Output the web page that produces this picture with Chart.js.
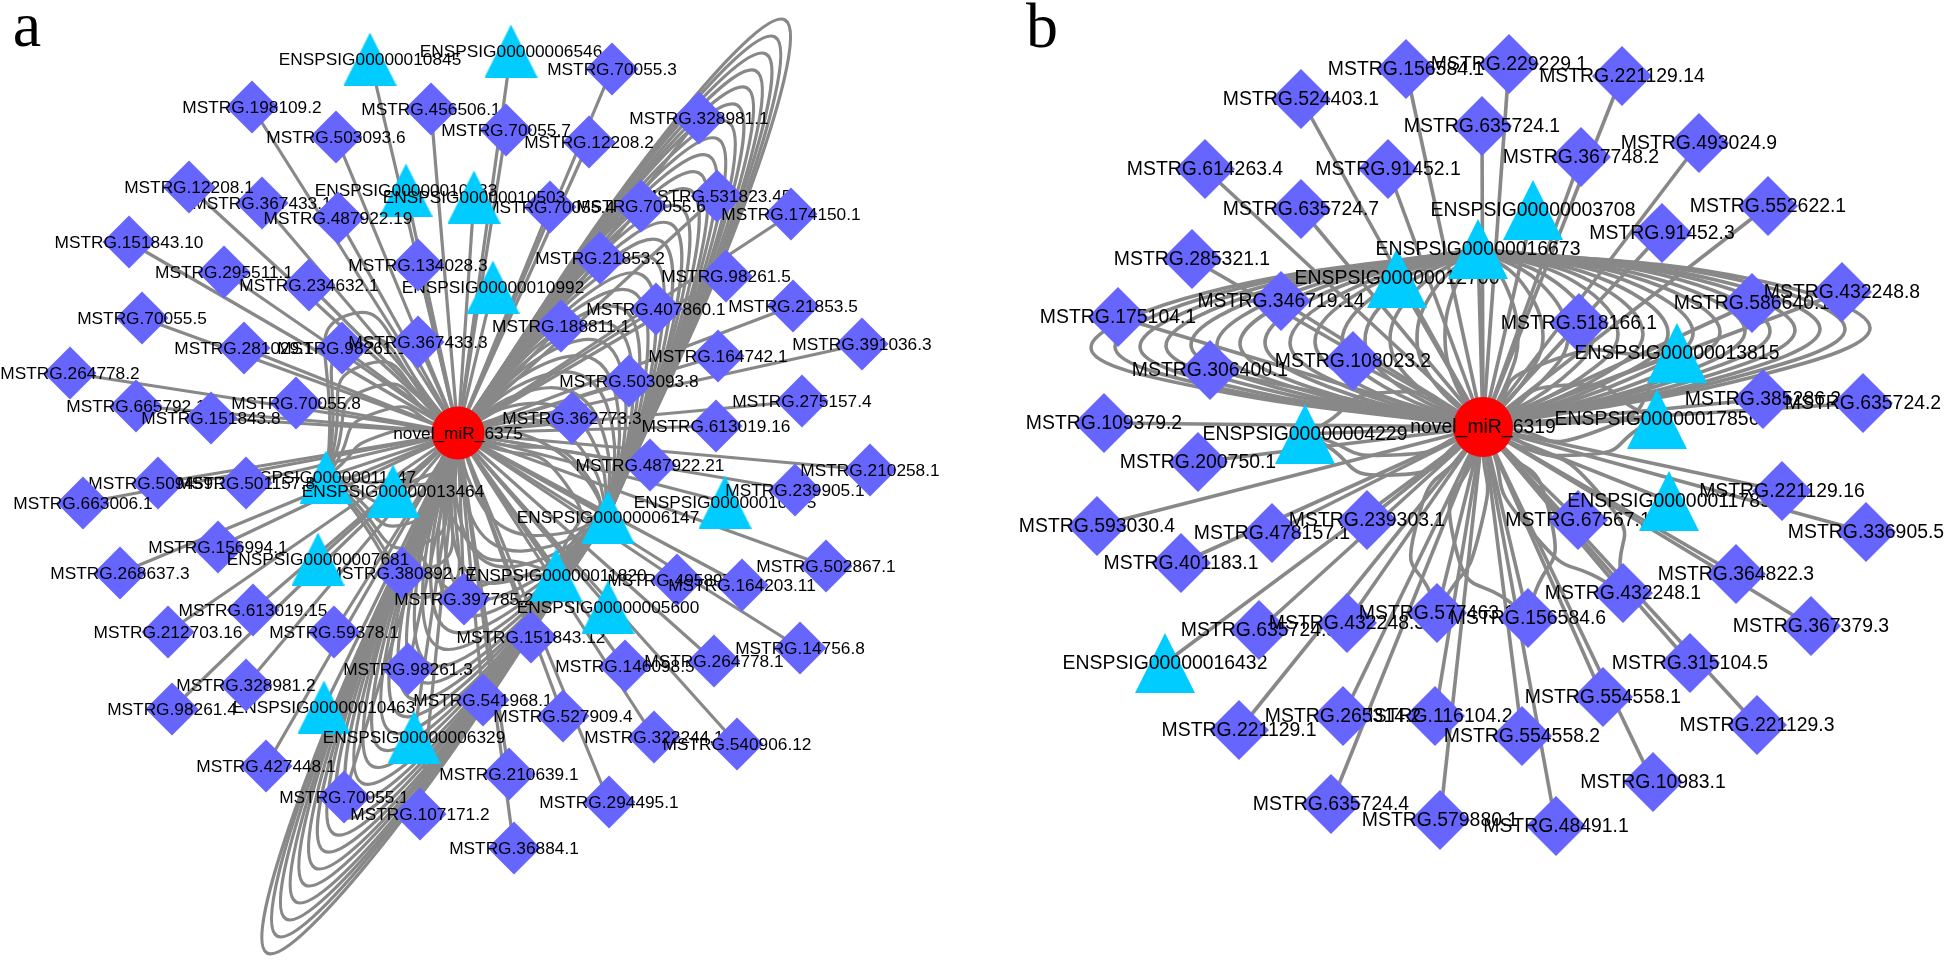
<!DOCTYPE html>
<html><head><meta charset="utf-8">
<style>html,body{margin:0;padding:0;background:#fff}#w{width:1946px;height:961px;position:relative}</style>
<script src="https://cdn.jsdelivr.net/npm/chart.js@4"></script>
</head><body><div id="w"><canvas id="c" width="1946" height="961"></canvas></div>
<script>
// Panel a -----------------------------------------------------------------
const hubA = {name:'novel_miR_6375', x:458, y:433};
const namesA = ['ENSPSIG00000010933','ENSPSIG00000010503','ENSPSIG00000010845','ENSPSIG00000006546','ENSPSIG00000010992','ENSPSIG00000011147','ENSPSIG00000013464','ENSPSIG00000007681','ENSPSIG00000010463','ENSPSIG00000006329','ENSPSIG00000010675','ENSPSIG00000006147','ENSPSIG00000011820','ENSPSIG00000005600',
'MSTRG.367433.1','MSTRG.12208.1','MSTRG.198109.2','MSTRG.456506.1','MSTRG.503093.6','MSTRG.487922.19','MSTRG.151843.10','MSTRG.295511.1','MSTRG.234632.1','MSTRG.134028.3','MSTRG.70055.5','MSTRG.281029.1','MSTRG.98261.1','MSTRG.367433.3','MSTRG.264778.2','MSTRG.665792.1','MSTRG.151843.8','MSTRG.70055.8','MSTRG.509459.1','MSTRG.501157.8','MSTRG.663006.1','MSTRG.156994.1','MSTRG.268637.3','MSTRG.380892.17','MSTRG.613019.15','MSTRG.212703.16','MSTRG.59378.1','MSTRG.397785.2','MSTRG.98261.3','MSTRG.328981.2','MSTRG.98261.4','MSTRG.541968.1','MSTRG.427448.1','MSTRG.70055.1','MSTRG.107171.2','MSTRG.210639.1','MSTRG.36884.1','MSTRG.294495.1','MSTRG.527909.4','MSTRG.322244.1','MSTRG.540906.12','MSTRG.146098.5','MSTRG.264778.1','MSTRG.14756.8','MSTRG.151843.12','MSTRG.495897.1','MSTRG.164203.11','MSTRG.502867.1','MSTRG.239905.1','MSTRG.210258.1','MSTRG.487922.21','MSTRG.70055.3','MSTRG.70055.7','MSTRG.12208.2','MSTRG.328981.1','MSTRG.531823.45','MSTRG.174150.1','MSTRG.70055.4','MSTRG.70055.6','MSTRG.21853.2','MSTRG.98261.5','MSTRG.407860.1','MSTRG.21853.5','MSTRG.188811.1','MSTRG.391036.3','MSTRG.164742.1','MSTRG.503093.8','MSTRG.275157.4','MSTRG.362773.3','MSTRG.613019.16'];
const xA = [406,474,370,511,493,326,393,318,324,414,725,608,556,608,
262,189,252,431,336,338,129,224,309,418,142,244,342,418,70,136,211,296,158,246,83,218,120,402,253,168,334,464,408,246,172,483,266,344,420,509,514,609,563,654,737,625,714,800,531,677,742,826,795,870,650,612,506,589,699,717,791,550,641,600,726,656,793,561,862,718,629,802,572,716];
const yA = [190,197,59,51,287,477,491,559,707,737,502,517,575,607,
203,187,107,109,137,218,242,272,285,265,318,348,348,342,373,406,418,403,483,483,503,547,573,573,610,632,632,599,669,685,709,700,766,797,814,774,848,802,716,737,744,666,661,648,637,580,585,566,490,470,465,69,130,142,118,196,214,207,206,258,276,309,306,326,344,356,381,401,418,426];
// nodes painted last in panel a, so they sit on top of their neighbours
const onTopA = ['ENSPSIG00000010503','ENSPSIG00000007681','ENSPSIG00000011820','ENSPSIG00000005600'];
// parallel hub-to-gene edges of panel a: shoulder near the hub, turning point, shoulder near the gene
const bundleTargetA = {x:608, y:517};
const nearXA = [666,659,652,646,639,632,626,619,612,606,599,592,586,579,572,566,559,552,546,539,532,526,519,512,506,499,304,310,317,324,330,337,344,350,357,364,371,377,384,391,397,404,411,417,424,431,438,444,451,458,464,471];
const nearYA = [132,144,156,168,180,191,203,215,227,239,251,263,275,287,299,311,322,334,346,358,370,382,394,406,418,430,785,773,761,749,737,725,713,701,689,677,665,653,641,629,617,605,593,581,569,557,545,533,521,509,497,485];
const bendXA = [785,775,766,756,747,737,728,718,709,699,690,680,671,661,652,642,633,623,614,604,595,585,576,566,557,547,267,277,286,296,305,315,324,334,343,353,362,372,381,391,400,410,419,429,438,448,457,467,476,486,495,505];
const bendYA = [20,37,54,71,88,105,122,139,156,173,190,207,224,241,258,275,292,309,326,343,360,377,394,411,428,445,953,936,919,902,885,868,851,834,817,800,783,766,749,732,715,698,681,664,647,630,613,596,579,562,545,528];
const farXA = [753,746,739,733,726,719,713,706,699,693,686,679,673,666,659,653,646,639,633,626,619,613,606,599,593,586,391,397,404,411,417,424,431,437,444,451,458,464,471,478,484,491,498,504,511,518,525,531,538,545,551,558];
const farYA = [181,193,205,217,229,240,252,264,276,288,300,312,324,336,348,360,371,383,395,407,419,431,443,455,467,479,834,822,810,798,786,774,762,750,738,726,714,702,690,678,666,654,642,630,618,606,594,582,570,558,546,534];
// smaller bundles: target node and turning point of each edge
const extraTargetXA = [326,326,326,326,326,326,326,326,326,326,326,326,393,393,393,393,556,556,556,556];
const extraTargetYA = [477,477,477,477,477,477,477,477,477,477,477,477,491,491,491,491,575,575,575,575];
const extraBendXA = [348,356,364,371,378,385,436,428,420,413,406,399,360,385,450,470,430,460,590,570];
const extraBendYA = [315,341,365,388,412,434,595,569,545,522,498,476,520,500,470,450,570,530,480,490];

// Panel b -----------------------------------------------------------------
const hubB = {name:'novel_miR_6319', x:1483, y:427};
const namesB = ['ENSPSIG00000012700','ENSPSIG00000016673','ENSPSIG00000003708','ENSPSIG00000013815','ENSPSIG00000017856','ENSPSIG00000004229','ENSPSIG00000016432','ENSPSIG00000011789',
'MSTRG.156584.1','MSTRG.524403.1','MSTRG.635724.1','MSTRG.614263.4','MSTRG.91452.1','MSTRG.635724.7','MSTRG.285321.1','MSTRG.346719.14','MSTRG.175104.1','MSTRG.306400.1','MSTRG.108023.2','MSTRG.109379.2','MSTRG.200750.1','MSTRG.229229.1','MSTRG.221129.14','MSTRG.493024.9','MSTRG.367748.2','MSTRG.552622.1','MSTRG.91452.3','MSTRG.586640.1','MSTRG.432248.8','MSTRG.518166.1','MSTRG.385286.2','MSTRG.635724.2','MSTRG.593030.4','MSTRG.478157.1','MSTRG.239303.1','MSTRG.401183.1','MSTRG.635724.5','MSTRG.432248.3','MSTRG.577463.1','MSTRG.221129.1','MSTRG.265314.2','MSTRG.116104.2','MSTRG.635724.4','MSTRG.579880.1','MSTRG.221129.16','MSTRG.336905.5','MSTRG.67567.1','MSTRG.364822.3','MSTRG.432248.1','MSTRG.156584.6','MSTRG.367379.3','MSTRG.315104.5','MSTRG.554558.1','MSTRG.554558.2','MSTRG.221129.3','MSTRG.10983.1','MSTRG.48491.1'];
const xB = [1397,1478,1533,1677,1657,1305,1165,1669,
1406,1301,1482,1205,1388,1301,1192,1281,1118,1210,1353,1104,1198,1509,1622,1699,1581,1768,1662,1752,1842,1579,1763,1863,1097,1272,1367,1181,1259,1347,1437,1239,1343,1435,1331,1440,1782,1866,1578,1736,1623,1528,1811,1690,1603,1522,1757,1653,1556];
const yB = [278,249,210,353,419,434,663,501,
69,99,126,169,169,209,259,301,317,370,361,423,462,64,76,143,157,206,233,303,292,323,399,403,526,533,520,563,630,623,613,730,716,716,804,820,491,532,520,574,593,618,626,663,697,736,725,782,826];
const onTopB = ['ENSPSIG00000013815','MSTRG.265314.2'];
const bundleTargetB = {x:1478, y:249};
const nearXB = [1208,1224,1242,1260,1278,1296,1312,1329,1347,1364,1383,1399,1417,1436,1456,1753,1736,1718,1701,1683,1666,1648,1629,1612,1594,1577,1559,1542,1524,1507];
const nearYB = [389,389,389,388,388,388,388,387,387,387,386,386,386,385,385,377,377,378,378,378,379,379,379,380,380,380,381,381,381,382];
const bendXB = [1091,1115,1140,1166,1191,1217,1240,1265,1290,1315,1342,1365,1390,1417,1445,1870,1845,1820,1795,1770,1745,1720,1693,1668,1643,1618,1593,1568,1543,1518];
const bendYB = [348,347,347,346,345,345,344,343,343,342,342,341,340,340,339,328,329,329,330,331,331,332,333,333,334,334,335,336,336,337];
const farXB = [1205,1221,1240,1258,1276,1294,1310,1327,1345,1362,1381,1397,1415,1434,1454,1751,1734,1716,1699,1681,1664,1646,1627,1610,1592,1575,1557,1540,1522,1505];
const farYB = [293,293,293,293,292,292,292,292,292,291,291,291,291,290,290,279,279,280,280,280,281,281,281,282,282,282,283,283,283,284];
const extraTargetXB = [1305,1305,1305,1437,1437,1528,1528,1623,1623,1657,1657,1677,1677];
const extraTargetYB = [434,434,434,613,613,618,618,593,593,419,419,353,353];
const extraBendXB = [1394,1394,1394,1415,1480,1550,1455,1605,1530,1570,1580,1600,1540];
const extraBendYB = [475,455,392,530,530,515,545,500,530,385,455,430,365];

const panelLetters = [{t:'a', x:27, y:46},{t:'b', x:1042, y:47}];

const EDGE='#888888', DIAMOND='#6666FF', TRI='#00CCFF', HUB='#FF0000';

function triangle(size){
  const c=document.createElement('canvas'); c.width=size; c.height=size;
  const g=c.getContext('2d'); g.fillStyle=TRI; g.beginPath();
  g.moveTo(size/2,0); g.lineTo(size,size); g.lineTo(0,size); g.closePath(); g.fill();
  return c;
}
const list=[];
function panel(hub,names,xs,ys,onTop,target,nx,ny,bx,by,fx,fy,ex,ey,ebx,eby,o){
  const h={x:hub.x,y:hub.y}, line={showLine:true,borderColor:EDGE,borderWidth:o.lw,pointRadius:0};
  names.forEach((n,i)=>list.push({...line,data:[h,{x:xs[i],y:ys[i]}]}));
  bx.forEach((x,i)=>list.push({...line,tension:.4,data:[h,{x:nx[i],y:ny[i]},{x,y:by[i]},{x:fx[i],y:fy[i]},{x:target.x,y:target.y}]}));
  ex.forEach((x,i)=>list.push({...line,tension:.7,data:[h,{x:ebx[i],y:eby[i]},{x,y:ey[i]}]}));
  const tri=triangle(o.tri);
  const node=(n,i)=>list.push({data:[{x:xs[i],y:ys[i]}],showLine:false,pointStyle:n.startsWith('ENSPSIG')?tri:'rectRot',pointRadius:o.r,pointBackgroundColor:DIAMOND,pointBorderWidth:0,nodeLabel:n,font:o.font});
  names.forEach((n,i)=>{ if(!onTop.includes(n)) node(n,i); });
  names.forEach((n,i)=>{ if(onTop.includes(n)) node(n,i); });
  list.push({data:[h],showLine:false,pointStyle:'circle',pointRadius:o.r,pointBackgroundColor:HUB,pointBorderWidth:0,nodeLabel:hub.name,font:o.font});
}
panel(hubA,namesA,xA,yA,onTopA,bundleTargetA,nearXA,nearYA,bendXA,bendYA,farXA,farYA,extraTargetXA,extraTargetYA,extraBendXA,extraBendYA,{lw:3.2,r:26.5,tri:53,font:'17.3px "Liberation Sans"'});
panel(hubB,namesB,xB,yB,onTopB,bundleTargetB,nearXB,nearYB,bendXB,bendYB,farXB,farYB,extraTargetXB,extraTargetYB,extraBendXB,extraBendYB,{lw:3.6,r:30,tri:60,font:'19.4px "Liberation Sans"'});
// ENSPSIG00000011789 is painted after MSTRG.67567.1 but before MSTRG.221129.16
const iMoved=list.findIndex(d=>d.nodeLabel==='ENSPSIG00000011789');
const moved=list.splice(iMoved,1)[0];
list.splice(list.findIndex(d=>d.nodeLabel==='MSTRG.221129.16'),0,moved);
const iLate=list.findIndex(d=>d.nodeLabel==='MSTRG.67567.1');
const late=list.splice(iLate,1)[0];
list.splice(list.findIndex(d=>d.nodeLabel==='ENSPSIG00000011789'),0,late);
list.forEach((d,i)=>{d.order=list.length-i;d.clip=false;});

const labels={id:'labels',
  afterDatasetDraw(chart,args){
    const d=chart.data.datasets[args.index]; if(!d.nodeLabel) return;
    const g=chart.ctx,p=d.data[0];
    g.save(); g.font=d.font; g.fillStyle='#000'; g.textAlign='center'; g.textBaseline='middle';
    g.fillText(d.nodeLabel,chart.scales.x.getPixelForValue(p.x),chart.scales.y.getPixelForValue(p.y)+1);
    g.restore();
  },
  afterDraw(chart){
    const g=chart.ctx; g.save(); g.font='64px "Liberation Serif"'; g.fillStyle='#000'; g.textAlign='center'; g.textBaseline='alphabetic';
    panelLetters.forEach(l=>g.fillText(l.t,chart.scales.x.getPixelForValue(l.x),chart.scales.y.getPixelForValue(l.y)));
    g.restore();
  }};
new Chart(document.getElementById('c'),{type:'scatter',data:{datasets:list},plugins:[labels],options:{
  responsive:false,animation:false,events:[],
  layout:{padding:0,autoPadding:false},
  elements:{line:{capBezierPoints:false}},
  plugins:{legend:{display:false},tooltip:{enabled:false}},
  scales:{x:{type:'linear',min:0,max:1946,display:false},y:{type:'linear',min:0,max:961,reverse:true,display:false}}
}});
</script></body></html>
